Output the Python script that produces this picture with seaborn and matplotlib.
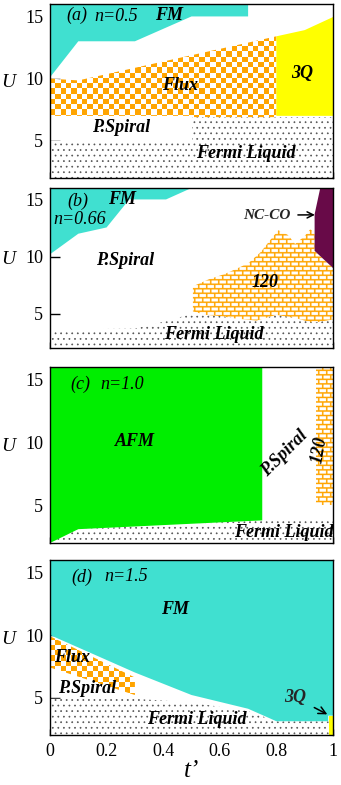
import numpy as np
import matplotlib.pyplot as plt
from matplotlib.patches import Polygon
import seaborn as sns

# ---- phase boundaries (t', U) ----
# (a) n=0.5
fm_a_t = [0, 0.7, 0.7, 0.5, 0.3, 0.1, 0]
fm_a_u = [16, 16, 15, 15, 13, 13, 10.1]
flux_a_t = [0, 0.1, 0.8, 0.8, 0.5, 0.5, 0]
flux_a_u = [10, 9.85, 13.4, 6.9, 6.9, 7.0, 7.0]
q3_a_t = [0.8, 0.8, 0.9, 1.0, 1.0]
q3_a_u = [7.0, 13.4, 13.9, 14.95, 7.0]
fl_a_t = [0, 0, 0.5, 0.5, 1, 1]
fl_a_u = [2, 5, 5, 6.9, 6.9, 2]

# (b) n=0.66
fm_b_t = [0, 0.5, 0.41, 0.28, 0.2, 0.1, 0]
fm_b_u = [16, 16, 15, 15, 12.55, 12.0, 10.2]
ncco_b_t = [0.955, 1.0, 1.0, 0.935, 0.935]
ncco_b_u = [16, 16, 9.0, 10.5, 13.7]
b120_b_t = [0.505, 0.56, 0.62, 0.7, 0.745, 0.78, 0.807, 0.84, 0.866, 0.9, 0.92,
            0.935, 0.935, 1.0, 1.0, 0.93, 0.87, 0.8, 0.73, 0.65, 0.6, 0.55, 0.505]
b120_b_u = [7.4, 8.0, 8.5, 9.4, 10.4, 11.5, 12.3, 11.9, 11.1, 11.8, 12.4,
            12.0, 10.5, 9.0, 4.5, 4.2, 4.6, 4.9, 4.4, 4.6, 4.8, 4.9, 5.2]
fl_b_t = [0, 0, 0.3, 0.42, 0.5, 1, 1]
fl_b_u = [2, 3.6, 3.7, 4.4, 5.0, 5.0, 2]

# (c) n=1.0
afm_c_t = [0, 0.75, 0.75, 0.1, 0]
afm_c_u = [16, 16, 3.8, 3.1, 2]
b120_c_t = [0.94, 0.94, 1.0, 1.0]
b120_c_u = [5.05, 16, 16, 5.05]
fl_c_t = [0, 0, 0.1, 0.75, 1, 1]
fl_c_u = [2, 3.1, 3.1, 3.8, 3.9, 2]

# (d) n=1.5
fm_d_t = [0, 0.3, 0.5, 0.7, 0.8, 0.983, 0.983, 1.0, 1.0, 0]
fm_d_u = [10, 7.0, 5.2, 4.1, 3.1, 3.1, 3.55, 3.55, 16, 16]
flux_d_t = [0, 0.3, 0.3, 0]
flux_d_u = [9.9, 6.6, 5.2, 7.4]
q3_d_t = [0.985, 0.985, 1.0, 1.0]
q3_d_u = [2, 3.55, 3.55, 2]
fl_d_t = [0, 0, 0.3, 0.5, 0.7, 0.8, 0.985, 0.985]
fl_d_u = [2, 4.9, 4.9, 4.6, 3.9, 3.1, 3.1, 2]

t_ticks = [0, 0.2, 0.4, 0.6, 0.8, 1.0]
t_labels = ["0", "0.2", "0.4", "0.6", "0.8", "1"]
u_ticks = [5, 10, 15]

TURQ = "#40E0D0"
ORANGE = "#FFA500"
YELLOW = "#FFFF00"
GREEN = "#00EE00"
PURPLE = "#680A48"

sns.set_theme(style="ticks")
plt.rcParams['font.family'] = ['Liberation Serif', 'DejaVu Serif']
plt.rcParams['hatch.linewidth'] = 0.5
plt.rcParams['axes.edgecolor'] = 'black'

fig = plt.figure(figsize=(3.41, 7.85), dpi=100)
boxes = [(4, 178), (188, 348), (367, 543), (560, 735)]  # top/bottom in px
axes = [fig.add_axes([50 / 341, 1 - b / 785, 283 / 341, (b - t) / 785]) for t, b in boxes]


def region(ax, t, u, color):
    ax.fill(t, u, facecolor=color, edgecolor='none', zorder=2)


def dots(ax, t, u):
    ax.fill(t, u, facecolor='white', edgecolor='#555555', hatch='...', linewidth=0, zorder=1)


def texture(ax, t, u, kind):
    h = int(round(ax.get_position().height * 785))
    w = int(round(ax.get_position().width * 341))
    orange = np.array([1.0, 0.647, 0.0])
    white = np.ones(3)
    if kind == "checker":
        cell = 5.3
        ny, nx = int(round(h / cell)), int(round(w / cell))
        jj, ii = np.meshgrid(np.arange(nx), np.arange(ny))
        mask = (ii + jj) % 2 == 0
        interp = 'nearest'
    else:
        ny, nx = 2 * h, 2 * w
        jj, ii = np.meshgrid(np.arange(nx), np.arange(ny))
        H, W = 9, 16
        shift = ((ii // H) % 2) * (W // 2)
        mask = (ii % H < 3) | (((jj + shift) % W) < 3)
        interp = 'antialiased'
    img = np.where(mask[..., None], orange, white)
    poly = Polygon(np.column_stack([t, u]), closed=True, facecolor='none', edgecolor='none')
    ax.add_patch(poly)
    im = ax.imshow(img, extent=(0, 1, 2, 16), origin='lower', aspect='auto',
                   interpolation=interp, zorder=2)
    im.set_clip_path(poly)


def lab(ax, x, y, s, size=13, bold=True, **kw):
    ax.text(x, y, s, fontsize=size, fontstyle='italic',
            fontweight='bold' if bold else 'normal', ha='center', va='center',
            color='black', zorder=5, **kw)


ax = axes[0]
dots(ax, fl_a_t, fl_a_u)
region(ax, fm_a_t, fm_a_u, TURQ)
texture(ax, flux_a_t, flux_a_u, "checker")
region(ax, q3_a_t, q3_a_u, YELLOW)
lab(ax, 0.094, 15.05, "(a)", bold=False)
lab(ax, 0.235, 15.0, "n=0.5", bold=False)
lab(ax, 0.42, 15.1, "FM")
lab(ax, 0.46, 9.45, "Flux")
lab(ax, 0.89, 10.4, "3Q")
lab(ax, 0.25, 6.1, "P.Spiral")
lab(ax, 0.69, 4.0, "Fermi Liquid")

ax = axes[1]
dots(ax, fl_b_t, fl_b_u)
region(ax, fm_b_t, fm_b_u, TURQ)
texture(ax, b120_b_t, b120_b_u, "brick")
region(ax, ncco_b_t, ncco_b_u, PURPLE)
lab(ax, 0.1, 14.8, "(b)", bold=False)
lab(ax, 0.106, 13.2, "n=0.66", bold=False)
lab(ax, 0.253, 15.0, "FM")
lab(ax, 0.265, 9.65, "P.Spiral")
lab(ax, 0.76, 7.76, "120")
lab(ax, 0.577, 3.2, "Fermi Liquid")
ax.annotate("NC-CO", xy=(0.936, 13.65), xytext=(0.766, 13.63), fontsize=11,
            fontstyle='italic', fontweight='bold', ha='center', va='center', zorder=5,
            arrowprops=dict(arrowstyle='->', color='black', lw=1.1, shrinkA=3, shrinkB=0))

ax = axes[2]
dots(ax, fl_c_t, fl_c_u)
region(ax, afm_c_t, afm_c_u, GREEN)
texture(ax, b120_c_t, b120_c_u, "brick")
lab(ax, 0.106, 14.6, "(c)", bold=False)
lab(ax, 0.255, 14.6, "n=1.0", bold=False)
lab(ax, 0.30, 10.1, "AFM")
lab(ax, 0.83, 9.1, "P.Spiral", rotation=45)
lab(ax, 0.954, 9.4, "120", rotation=80)
lab(ax, 0.825, 2.85, "Fermi Liquid")

ax = axes[3]
dots(ax, fl_d_t, fl_d_u)
region(ax, fm_d_t, fm_d_u, TURQ)
texture(ax, flux_d_t, flux_d_u, "checker")
region(ax, q3_d_t, q3_d_u, YELLOW)
lab(ax, 0.112, 14.65, "(d)", bold=False)
lab(ax, 0.27, 14.65, "n=1.5", bold=False)
lab(ax, 0.44, 12.06, "FM")
lab(ax, 0.077, 8.17, "Flux")
lab(ax, 0.13, 5.7, "P.Spiral")
lab(ax, 0.518, 3.28, "Fermi Liquid")
ax.annotate("3Q", xy=(0.98, 3.65), xytext=(0.866, 5.0), fontsize=13,
            fontstyle='italic', fontweight='bold', ha='center', va='center', zorder=5,
            arrowprops=dict(arrowstyle='->', color='black', lw=1.1, shrinkA=4, shrinkB=0))

for i, ax in enumerate(axes):
    ax.set_xlim(0, 1)
    ax.set_ylim(2, 16)
    ax.set_yticks(u_ticks)
    ax.set_xticks(t_ticks)
    ax.tick_params(axis='y', direction='in', length=7, width=1, labelsize=13, pad=5,
                   colors='black')
    ax.tick_params(axis='x', direction='in', length=4, width=1, labelsize=13, pad=6,
                   colors='black')
    ax.tick_params(top=False, right=False)
    for sp in ax.spines.values():
        sp.set_linewidth(1.0)
        sp.set_color('black')
        sp.set_zorder(6)
    ax.set_ylabel("U", rotation=0, fontsize=14, fontstyle='italic', color='black')
    ax.yaxis.set_label_coords(-0.148, 0.5)
    if i < 3:
        ax.set_xticklabels([])
    else:
        ax.set_xticklabels(t_labels)
        ax.set_xlabel("t’", fontsize=18, fontstyle='italic', color='black', labelpad=0)

fig.savefig("out.png", dpi=100)
